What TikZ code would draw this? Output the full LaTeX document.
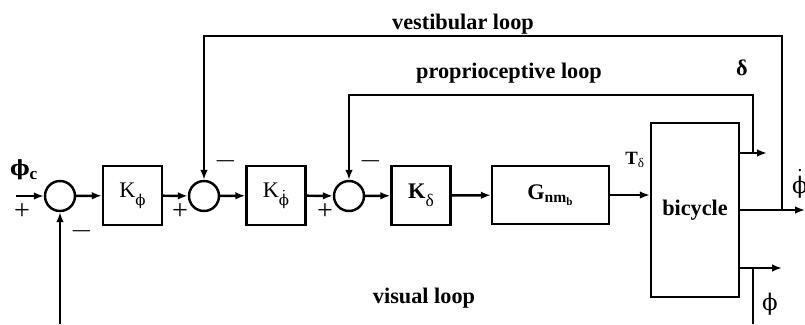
\documentclass[tikz,border=0pt]{standalone}
\usepackage{amsmath,amssymb}
\usepackage{fontspec}
\setmainfont{Liberation Serif}
\newfontfamily\grkfont[Scale=0.85]{DejaVu Serif}
\newcommand{\vphi}{{\grkfont ϕ}}
\newcommand{\lowsub}[1]{\raisebox{-0.35em}{\fontsize{15}{17}\selectfont #1}}
\usepackage{tikz}
\usetikzlibrary{arrows.meta}

\tikzset{
  wire/.style={line width=2.1pt},
  sig/.style={wire, -{Latex[length=3mm,width=2.3mm]}},
  block/.style={draw, line width=2.1pt, minimum width=17.7mm, minimum height=17.7mm, inner sep=0pt},
  junct/.style={draw, circle, line width=2.1pt, minimum size=9mm, inner sep=0pt},
  lbl/.style={font=\fontsize{19}{21}\selectfont},
  blbl/.style={font=\fontsize{19}{21}\selectfont\bfseries},
  sgn/.style={font=\fontsize{24}{26}\selectfont},
}

\begin{document}
\begin{tikzpicture}[x=0.3mm, y=-0.3mm]
    \useasboundingbox (0,0) rectangle (805,324);
    % summing junctions
    \node[junct] (sum1) at (60,196) {};
    \node[junct] (sum2) at (204,196) {};
    \node[junct] (sum3) at (349,196) {};
    % controller blocks
    \node[block, lbl] (kphi) at (132.5,195.5) {K\lowsub{\vphi}};
    \node[block, lbl] (kphid) at (276,195.5) {K\lowsub{$\dot{\text{\vphi}}$}};
    \node[block, lbl] (kdel) at (421,195.5) {\textbf{K}\lowsub{δ}};
    \node[block, blbl, minimum width=35.1mm, minimum height=17.4mm] (gnm) at (550.5,195) {G$_{\text{\textbf{nm}}_{\text{\textbf{b}}}}$};
    \node[block, blbl, minimum width=26.4mm, minimum height=52.2mm] (bike) at (695,210) {bicycle};
    % points for inputs, outputs and loops
    \coordinate (in) at (16,196);
    \coordinate (dout) at (767,153);
    \coordinate (pj) at (753,153);
    \coordinate (ptop) at (753,95);
    \coordinate (rout) at (805,210);
    \coordinate (vj) at (782,210);
    \coordinate (vtop) at (782,36);
    \coordinate (fout) at (782,268);
    \coordinate (fj) at (753,268);
    \coordinate (fbot) at (753,324);
    \coordinate (sbot) at (60,324);
    % forward path
    \draw[sig] (in) -- (sum1.west);
    \draw[sig] (sum1) -- (kphi);
    \draw[sig] (kphi) -- (sum2);
    \draw[sig] (sum2) -- (kphid);
    \draw[sig] (kphid) -- (sum3);
    \draw[sig] (sum3) -- (kdel);
    \draw[sig] (kdel) -- (gnm);
    \draw[sig] (gnm.east) -- (gnm.east -| bike.west);
    % outputs
    \draw[sig] (dout -| bike.east) -- (dout);
    \draw[sig] (rout -| bike.east) -- (rout);
    \draw[sig] (fout -| bike.east) -- (fout);
    % feedback loops
    \draw[sig] (pj) -- (ptop) -| (sum3.north);
    \draw[sig] (vj) -- (vtop) -| (sum2.north);
    \draw[wire] (fj) -- (fbot);
    \draw[sig] (sbot) -- (sum1.south);
    % signs
    \node[sgn] (p1) at (22,212) {+};
    \node[sgn] (m1) at (82,231) {$-$};
    \node[sgn] (p2) at (180,212) {+};
    \node[sgn] (m2) at (226,161) {$-$};
    \node[sgn] (p3) at (325,212) {+};
    \node[sgn] (m3) at (371,161) {$-$};
    % signal labels
    \node[lbl, font=\fontsize{21}{23}\selectfont\bfseries] (phic) at (24,170) {{\grkfont\bfseries ϕ}$_{\text{\textbf{c}}}$};
    \node[lbl, font=\fontsize{16}{18}\selectfont\bfseries] (tdel) at (635,160) {T$_{\text{\mdseries δ}}$};
    \node[blbl] (dlab) at (742,68) {δ};
    \node[lbl, anchor=west, font=\fontsize{23}{25}\selectfont] (phidl) at (788,184) {$\dot{\text{\vphi}}$};
    \node[lbl, font=\fontsize{23}{25}\selectfont] (phil) at (770,304) {\vphi};
    % loop names
    \node[blbl] (vest) at (463,24) {vestibular loop};
    \node[blbl] (prop) at (509,73) {proprioceptive loop};
    \node[blbl] (vis) at (424,298) {visual loop};
\end{tikzpicture}
\end{document}
